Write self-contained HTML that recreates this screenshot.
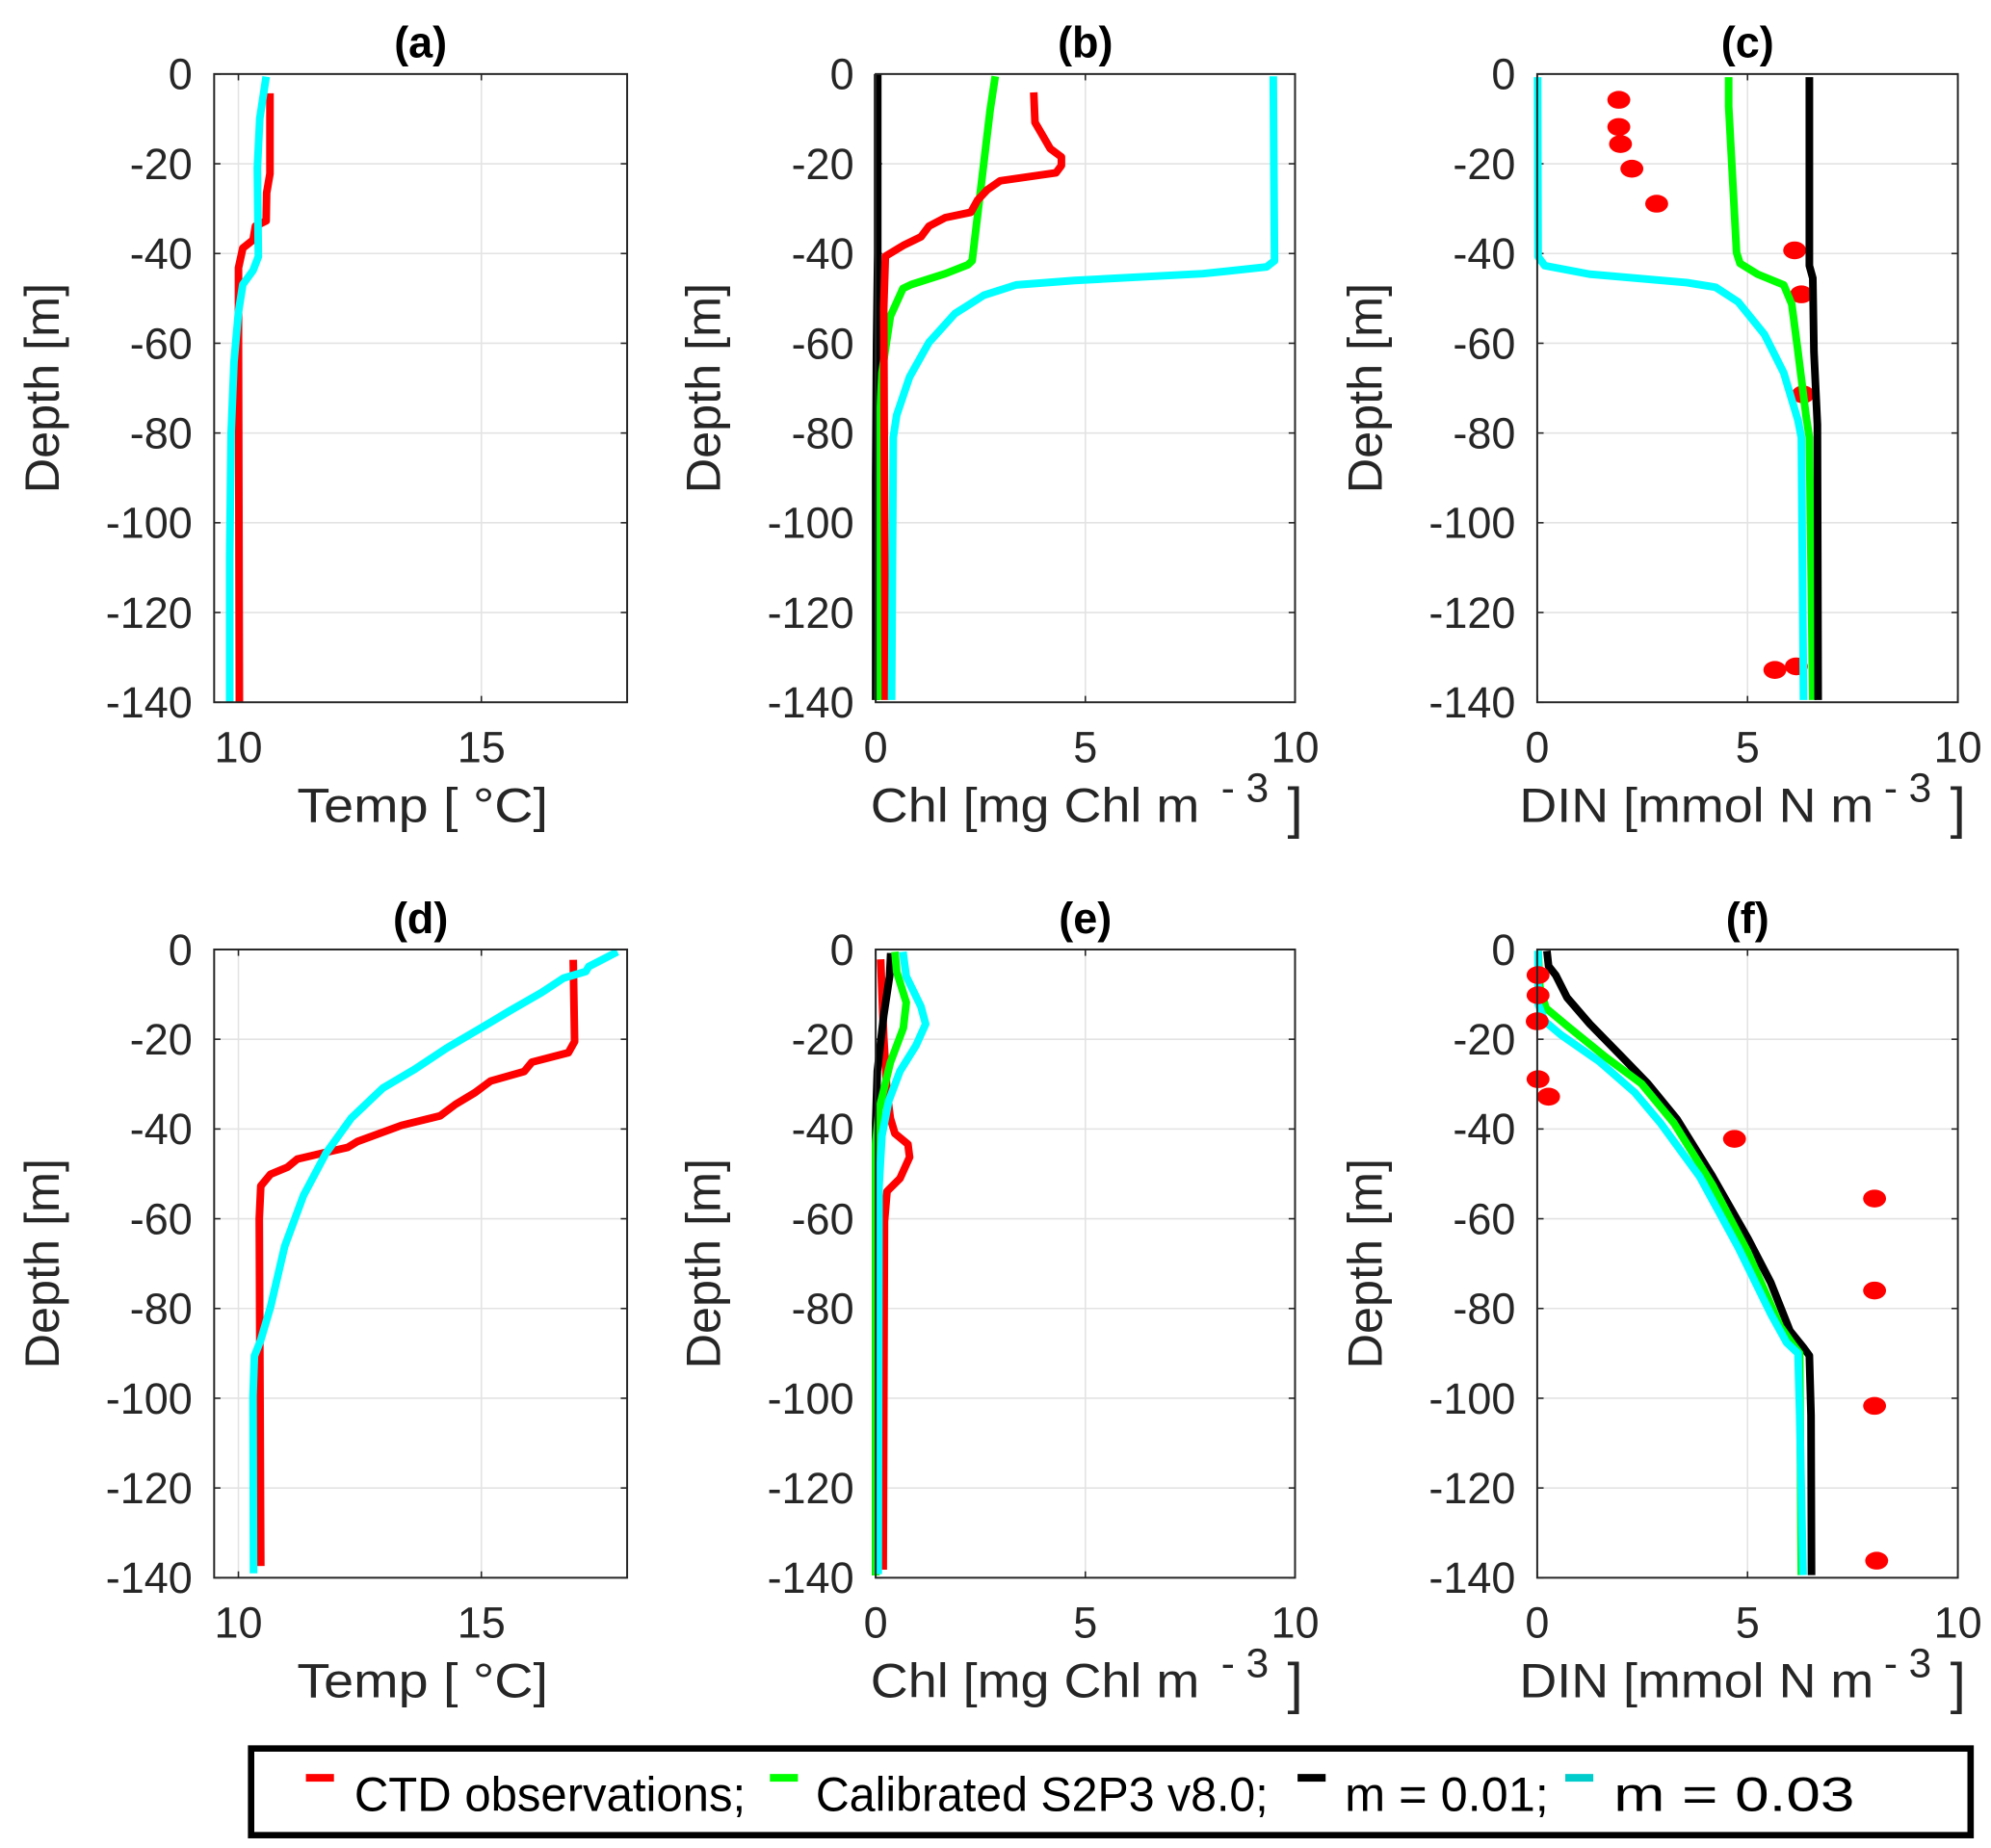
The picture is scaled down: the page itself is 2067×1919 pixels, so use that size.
<!DOCTYPE html>
<html><head><meta charset="utf-8"><style>
html,body{margin:0;padding:0;background:#fff;}
svg{display:block;font-family:"Liberation Sans",Arial,sans-serif;}
</style></head><body>
<svg id="fig" width="2067" height="1919" viewBox="0 0 1562 1450" xmlns="http://www.w3.org/2000/svg"></svg>
<script>
const depthTicks = [0,-20,-40,-60,-80,-100,-120,-140];
const tempTicks = [10,15];
const concTicks = [0,5,10];

const aRedX = [10.65,10.65,10.58,10.57,10.35,10.3,10.09,10.0,10.0,10.02];
const aRedD = [4.3,22.2,26.5,32.7,33.9,37,38.8,43.2,60.4,140];
const aCyanX = [10.57,10.44,10.39,10.41,10.3,10.09,10.0,9.91,9.85,9.82,9.82];
const aCyanD = [0.6,9.9,21,40.7,43.8,46.9,53,64.1,80.2,107.3,140];

const bBlackX = [0.05,0.05,0.02,0.0,0.0];
const bBlackD = [0,40,60,90,139.5];
const bGreenX = [2.85,2.73,2.3,2.2,1.66,0.85,0.65,0.35,0.15,0.08,0.06];
const bGreenD = [0.5,8,41.6,42.5,44.5,46.9,47.8,54,66.6,81,139.5];
const bRedX = [3.77,3.8,4.0,4.16,4.43,4.43,4.3,2.97,2.66,2.43,2.27,1.66,1.27,1.08,0.66,0.23,0.19,0.23];
const bRedD = [4.1,10.8,14,16.6,18.5,20.4,22,23.8,25.8,28.1,30.8,32,33.9,36.3,38.2,40.6,52.2,139.5];
const bCyanX = [9.48,9.51,9.32,7.8,4.74,3.35,2.58,1.89,1.27,0.81,0.5,0.42,0.38];
const bCyanD = [0.5,41.6,43,44.5,46,47,49.3,53.4,59.8,67.5,76,81,139.5];

const cCyanX = [0.01,0.02,0.18,1.25,3.55,4.24,4.78,5.4,5.86,6.2,6.28,6.33];
const cCyanD = [0.7,40.7,42.7,44.6,46.5,47.5,50.8,58,66.6,77.2,81,139.5];
const cGreenX = [4.55,4.55,4.74,4.82,5.24,5.86,6.05,6.2,6.39,6.47,6.55];
const cGreenD = [0.7,7.2,39.8,42.2,44.6,47,51.3,61.9,76.2,81,139.5];
const cBlackX = [6.47,6.47,6.55,6.58,6.66,6.68];
const cBlackD = [0.7,42.7,45.5,61.9,78.1,139.5];
const cObsX = [1.94,1.94,1.98,2.25,2.84,6.12,6.28,6.32,5.65,6.16];
const cObsD = [5.75,11.8,15.6,21.1,28.9,39.3,49.1,71.4,132.8,132];

const dRedX = [16.89,16.92,16.79,16.04,15.88,15.19,14.87,14.47,14.15,13.36,12.45,12.25,11.8,11.21,11.01,10.66,10.46,10.43,10.46];
const dRedD = [2.3,20.5,23,25.1,27.2,29.3,31.9,34.5,37.1,39.2,42.8,44.1,45.2,46.7,48.5,50.1,52.7,60,137.4];
const dCyanX = [17.8,17.21,17.15,16.69,16.24,15.58,14.93,14.28,13.63,12.97,12.32,11.8,11.34,10.95,10.66,10.46,10.33,10.3,10.31];
const dCyanD = [0.5,3.8,4.9,6.4,9.6,13.7,17.9,22,26.7,30.9,37.6,45.4,54.8,66.2,79.7,87,90.6,99.5,139];

const eRedX = [0.12,0.19,0.27,0.35,0.46,0.77,0.81,0.58,0.27,0.21,0.18];
const eRedD = [2.2,19.4,31.9,37.6,41,43.4,46.3,51,53.9,60.6,138.2];
const eBlackX = [0.36,0.33,0.19,0.04,0.0,0.0,0.0];
const eBlackD = [0.8,6,14.7,27.1,38.6,72,139.5];
const eGreenX = [0.46,0.5,0.73,0.66,0.35,0.08,0.0,0.0];
const eGreenD = [0.5,5,11.8,17.5,25.2,35.7,43.4,139.5];
const eCyanX = [0.65,0.73,1.08,1.19,0.96,0.58,0.31,0.15,0.08,0.06];
const eCyanD = [0.5,6,12.7,16.6,21.4,27.1,33.8,41.5,53,139.2];

const fBlackX = [0.23,0.27,0.44,0.71,1.25,2.02,2.63,3.32,4.17,5.01,5.55,6.01,6.32,6.47,6.51,6.52];
const fBlackD = [0.3,3.7,5.7,10.7,16.6,24,29.9,37.8,50.6,64.4,74.2,85,88.6,90.5,103.8,139.4];
const fGreenX = [0.02,0.06,0.21,0.71,1.63,2.48,3.25,4.17,5.0,5.78,6.08,6.24,6.28];
const fGreenD = [0.3,8.2,13.1,17,24,29.9,38.7,52.5,67.3,84,88,90,139.4];
const fCyanX = [0.02,0.02,0.18,0.56,1.48,2.32,2.94,3.86,4.78,5.55,5.93,6.2,6.24,6.32];
const fCyanD = [0.3,12.1,16,19,25,31.9,38.8,50.6,66.4,81.2,87.6,90,103.8,139.4];
const fObsX = [0.02,0.02,0.0,0.02,0.27,4.69,8.02,8.02,8.02,8.07];
const fObsD = [5.7,10.2,16,28.9,32.8,42.2,55.5,76,101.7,136.2];

const panels = [
 {id:'a',title:'(a)',x0:168,x1:492,y0:58,y1:551,xmin:9.5,xmax:18,xt:tempTicks,lab:'temp',
  lines:[['red',aRedX,aRedD],['cyan',aCyanX,aCyanD]],dots:null},
 {id:'b',title:'(b)',x0:687,x1:1016,y0:58,y1:551,xmin:0,xmax:10,xt:concTicks,lab:'chl',
  lines:[['black',bBlackX,bBlackD],['green',bGreenX,bGreenD],['red',bRedX,bRedD],['cyan',bCyanX,bCyanD]],dots:null},
 {id:'c',title:'(c)',x0:1206,x1:1536,y0:58,y1:551,xmin:0,xmax:10,xt:concTicks,lab:'din',
  lines:[['cyan',cCyanX,cCyanD],['green',cGreenX,cGreenD],['black',cBlackX,cBlackD]],dots:[cObsX,cObsD],dotsFirst:true},
 {id:'d',title:'(d)',x0:168,x1:492,y0:745,y1:1238,xmin:9.5,xmax:18,xt:tempTicks,lab:'temp',
  lines:[['red',dRedX,dRedD],['cyan',dCyanX,dCyanD]],dots:null},
 {id:'e',title:'(e)',x0:687,x1:1016,y0:745,y1:1238,xmin:0,xmax:10,xt:concTicks,lab:'chl',
  lines:[['red',eRedX,eRedD],['black',eBlackX,eBlackD],['green',eGreenX,eGreenD],['cyan',eCyanX,eCyanD]],dots:null},
 {id:'f',title:'(f)',x0:1206,x1:1536,y0:745,y1:1238,xmin:0,xmax:10,xt:concTicks,lab:'din',
  lines:[['black',fBlackX,fBlackD],['green',fGreenX,fGreenD],['cyan',fCyanX,fCyanD]],dots:[fObsX,fObsD]}
];
const colors = {red:'#ff0000',green:'#00ff00',black:'#000000',cyan:'#00ffff'};
const NS='http://www.w3.org/2000/svg';
const svg=document.getElementById('fig');
function mk(tag,attrs,parent){const e=document.createElementNS(NS,tag);for(const k in attrs)e.setAttribute(k,attrs[k]);(parent||svg).appendChild(e);return e;}

panels.forEach(p=>{
  const g=mk('g',{});
  
  
  const sx=v=>p.x0+(v-p.xmin)/(p.xmax-p.xmin)*(p.x1-p.x0);
  const sy=d=>p.y0+(d/140)*(p.y1-p.y0);
  depthTicks.forEach(t=>{const y=sy(-t);
    const l=mk('line',{x1:p.x0,x2:p.x1,y1:y,y2:y,stroke:'#e3e3e3','stroke-width':1.2},g);
    
    
    mk('line',{x1:p.x0,x2:p.x0+5,y1:y,y2:y,stroke:'#262626','stroke-width':1.2},g);
    mk('line',{x1:p.x1,x2:p.x1-5,y1:y,y2:y,stroke:'#262626','stroke-width':1.2},g);
    const tx=mk('text',{x:p.x0-17,y:y+12,'text-anchor':'end','font-size':34,fill:'#262626'},g);
    tx.textContent=String(t);
    
    
  });
  p.xt.forEach(t=>{const x=sx(t);
    const l=mk('line',{x1:x,x2:x,y1:p.y0,y2:p.y1,stroke:'#e3e3e3','stroke-width':1.2},g);
    
    
    mk('line',{x1:x,x2:x,y1:p.y1,y2:p.y1-5,stroke:'#262626','stroke-width':1.2},g);
    mk('line',{x1:x,x2:x,y1:p.y0,y2:p.y0+5,stroke:'#262626','stroke-width':1.2},g);
    const tx=mk('text',{x:x,y:p.y1+47,'text-anchor':'middle','font-size':34,fill:'#262626'},g);
    tx.textContent=t;
    
    
  });
  const drawDots=()=>{ if(!p.dots) return;
    p.dots[0].forEach((v,i)=>{
      const c=mk('ellipse',{cx:sx(v),cy:sy(p.dots[1][i]),rx:9,ry:7,fill:'#ff0000'},g);
      
      
    });
  };
  if(p.dotsFirst) drawDots();
  p.lines.forEach(([col,xs,ds])=>{
    const pts=xs.map((v,i)=>sx(v).toFixed(1)+','+sy(ds[i]).toFixed(1)).join(' ');
    const pl=mk('polyline',{points:pts,fill:'none',stroke:colors[col],'stroke-width':6,'stroke-linejoin':'round'},g);
    
    
  });
  if(!p.dotsFirst) drawDots();
  const fr=mk('rect',{x:p.x0,y:p.y0,width:p.x1-p.x0,height:p.y1-p.y0,fill:'none',stroke:'#262626','stroke-width':1.5},g);
  
  
  const ti=mk('text',{x:(p.x0+p.x1)/2,y:p.y0-13,'text-anchor':'middle','font-size':34,'font-weight':'bold',fill:'#000'},g);
  ti.textContent=p.title;
  
  
  const yl=mk('text',{x:0,y:0,'text-anchor':'middle','font-size':38,fill:'#262626',textLength:165,lengthAdjust:'spacingAndGlyphs',transform:`translate(${p.x0-122},${(p.y0+p.y1)/2}) rotate(-90)`},g);
  yl.textContent='Depth [m]';
  
  
  const by=p.y1+94;
  const xl=mk('text',{x:0,y:by,'font-size':38,fill:'#262626'},g);
  
  
  if(p.lab==='temp'){
    xl.setAttribute('x',p.x0+65);
    xl.setAttribute('textLength',197);xl.setAttribute('lengthAdjust','spacingAndGlyphs');
    xl.textContent='Temp [ °C]';
  } else {
    const base = p.lab==='chl'?'Chl [mg Chl m':'DIN [mmol N m';
    const startX = p.lab==='chl'?p.x0-4:p.x0-14;
    const endX = p.lab==='chl'?p.x0+254:p.x0+264;
    const t1=mk('tspan',{x:startX,y:by},xl); t1.textContent=base;
    t1.setAttribute('textLength',endX-startX); t1.setAttribute('lengthAdjust','spacingAndGlyphs');
    const t2=mk('tspan',{x:p.x1-58,y:by-16,'font-size':32},xl); t2.textContent='- 3';
    const t3=mk('tspan',{x:p.x1-6,y:by+4,'font-size':44},xl); t3.textContent=']';
  }
});

const lg=mk('g',{});


mk('rect',{x:197,y:1372,width:1349,height:68,fill:'#fff',stroke:'#000','stroke-width':5},lg);
const legendLabels=['CTD observations;','Calibrated S2P3 v8.0;','m = 0.01;','m = 0.03'];
const legendCols=['#ff0000','#00ff00','#000000','#00cccc'];
const legendMarkX=[240,604,1018,1228];
const legendTextX=[278,640,1055,1266];
const legendTextEnd=[585,995,1215,1455];
legendLabels.forEach((s,i)=>{
  const e=mk('g',{},lg);
  
  
  mk('rect',{x:legendMarkX[i],y:1392,width:22,height:6,fill:legendCols[i]},e);
  const t=mk('text',{x:legendTextX[i],y:1421,'font-size':38,fill:'#000',textLength:legendTextEnd[i]-legendTextX[i],lengthAdjust:'spacingAndGlyphs'},e);
  t.textContent=s;
});
</script>
</body></html>
